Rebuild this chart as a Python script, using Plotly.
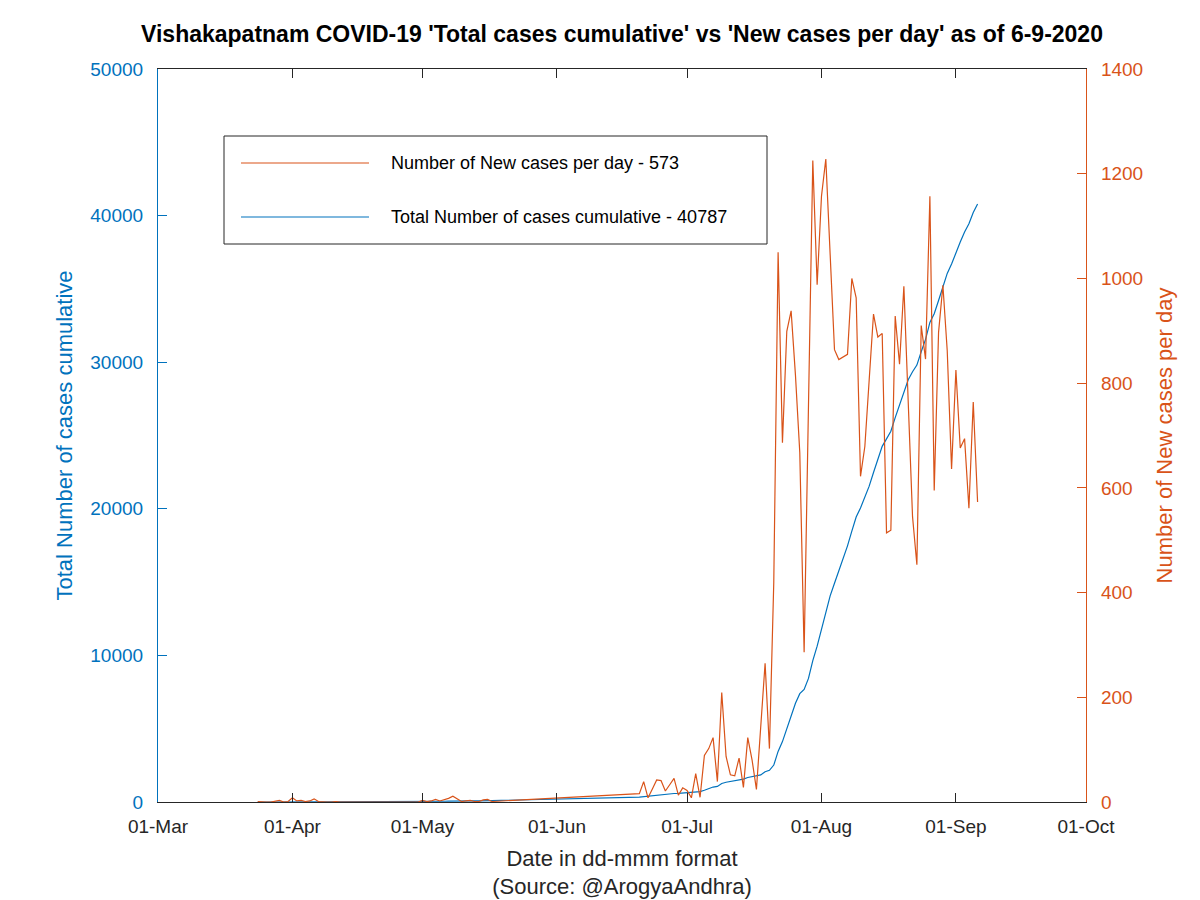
import pandas as pd
import plotly.graph_objects as go

# ---------------- data ----------------
seg1_start, seg1_end = "2020-03-24", "2020-05-17"
seg2_start, seg2_end = "2020-06-20", "2020-09-06"

new_seg1 = [1, 0, 0, 0, 1, 3, 0, 1, 8, 2, 3, 1, 2, 6, 1, 0,
            0, 0, 1, 0, 0, 0, 0, 1, 0, 0, 0, 0, 1, 0, 0, 0, 0, 0, 1, 0, 0, 0,
            3, 1, 2, 5, 2, 4, 7, 11, 6, 1, 2, 3, 1, 1, 4, 5, 1]
total_seg1 = [1, 1, 1, 1, 2, 5, 5, 6, 14, 16, 19, 20, 22, 28, 29, 29,
              29, 29, 30, 30, 30, 30, 30, 31, 31, 31, 31, 31, 32, 32, 32, 32, 32, 32, 33, 33, 33, 33,
              36, 37, 39, 44, 46, 50, 57, 68, 74, 75, 77, 80, 81, 82, 86, 91, 92]

new_seg2 = [16, 39, 8, 25, 42, 41, 21, 33, 45, 13, 27, 22, 8, 54, 9,
            89, 102, 123, 39, 209, 87, 52, 50, 84, 28, 123, 80, 24, 145, 265,
            102, 420, 1050, 686, 899, 938, 815, 667, 286, 755, 1225, 988, 1157, 1228, 1046,
            864, 845, 850, 855, 1000, 963, 622, 679, 806, 932, 888, 895, 514, 519, 928,
            836, 985, 765, 545, 453, 910, 846, 1157, 595, 897, 987, 862, 636, 825, 676,
            694, 561, 764, 573]
total_seg2 = [330, 365, 375, 400, 440, 480, 500, 535, 580, 590, 620, 640, 650, 700, 710,
              800, 900, 1020, 1060, 1260, 1350, 1400, 1450, 1530, 1560, 1670, 1740, 1760, 1850, 2060,
              2160, 2520, 3450, 4120, 5000, 5930, 6730, 7390, 7680, 8430, 9641, 10629, 11786, 13014, 14060,
              14924, 15769, 16619, 17474, 18474, 19437, 20059, 20738, 21544, 22476, 23364, 24259, 24773, 25292, 26220,
              27056, 28041, 28806, 29351, 29804, 30714, 31560, 32717, 33312, 34209, 35196, 36058, 36694, 37519, 38195,
              38889, 39450, 40214, 40787]

left_ticks = [0, 10000, 20000, 30000, 40000, 50000]
right_ticks = [0, 200, 400, 600, 800, 1000, 1200, 1400]
x_ticks = ["2020-03-01", "2020-04-01", "2020-05-01", "2020-06-01",
           "2020-07-01", "2020-08-01", "2020-09-01", "2020-10-01"]

title_text = "Vishakapatnam COVID-19 'Total cases cumulative' vs 'New cases per day' as of 6-9-2020"
new_label = "Number of New cases per day - 573"
total_label = "Total Number of cases cumulative - 40787"

# ---------------- build ----------------
dates = list(pd.date_range(seg1_start, seg1_end)) + list(pd.date_range(seg2_start, seg2_end))
new_cases = new_seg1 + new_seg2
total_cases = total_seg1 + total_seg2

BLUE = "#0072BD"
ORANGE = "#D95319"
DARK = "#262626"
FONT = "Liberation Sans, Arial, Helvetica, sans-serif"

fig = go.Figure()
fig.add_trace(go.Scatter(x=dates, y=total_cases, mode="lines", name=total_label,
                         line=dict(color=BLUE, width=1.2), yaxis="y", showlegend=False))
fig.add_trace(go.Scatter(x=dates, y=new_cases, mode="lines", name=new_label,
                         line=dict(color=ORANGE, width=1.2), yaxis="y2", showlegend=False))

W, H = 1200, 900
OFF = 7  # page body offset in the browser
L, R, T, B = 157 - OFF, 1085 - OFF, 68 - OFF, 801 - OFF
pw, ph = R - L, B - T

def px(xp):
    return (xp - OFF - L) / pw

def py(yp):
    return (B - (yp - OFF)) / ph

fig.update_layout(
    width=W, height=H,
    margin=dict(l=L, r=W - R, t=T, b=H - B, autoexpand=False),
    paper_bgcolor="white", plot_bgcolor="white",
    font=dict(family=FONT, size=19, color=DARK),
    title=dict(text="<b>" + title_text + "</b>", x=0.5, xref="paper", xanchor="center",
               y=1 - (33 - OFF) / H, yref="container", yanchor="middle",
               font=dict(family=FONT, size=23, color="black")),
    xaxis=dict(
        type="date", range=["2020-03-01", "2020-10-01"],
        tickvals=x_ticks, tickformat="%d-%b",
        showgrid=False, zeroline=False,
        showline=True, linecolor=DARK, linewidth=1.2, mirror="ticks",
        ticks="inside", ticklen=9, tickcolor=DARK, tickwidth=1,
        ticklabelstandoff=7,
        tickfont=dict(size=19, color=DARK),
        title=dict(text="Date in dd-mmm format<br>(Source: @ArogyaAndhra)",
                   font=dict(size=22, color=DARK), standoff=14),
    ),
    yaxis=dict(
        range=[0, 50000], tickvals=left_ticks, tickformat="d",
        showgrid=False, zeroline=False,
        showline=True, linecolor=BLUE, linewidth=1.2,
        ticks="inside", ticklen=9, tickcolor=BLUE,
        ticklabelstandoff=10,
        tickfont=dict(size=19, color=BLUE),
        title=dict(text="Total Number of cases cumulative", font=dict(size=22, color=BLUE), standoff=11),
    ),
    yaxis2=dict(
        range=[0, 1400], tickvals=right_ticks, tickformat="d",
        overlaying="y", side="right",
        showgrid=False, zeroline=False,
        showline=True, linecolor=ORANGE, linewidth=1.2,
        ticks="inside", ticklen=9, tickcolor=ORANGE,
        ticklabelstandoff=10,
        tickfont=dict(size=19, color=ORANGE),
        title=dict(text="Number of New cases per day", font=dict(size=22, color=ORANGE), standoff=14),
    ),
)

# legend box drawn as in the reference (long line samples)
shapes = [
    dict(type="rect", xref="paper", yref="paper", x0=px(223), x1=px(766), y0=py(243), y1=py(135),
         line=dict(color=DARK, width=1), fillcolor="white", layer="above"),
    dict(type="line", xref="paper", yref="paper", x0=px(240), x1=px(368), y0=py(162), y1=py(162),
         line=dict(color=ORANGE, width=1.2), layer="above"),
    dict(type="line", xref="paper", yref="paper", x0=px(240), x1=px(368), y0=py(216), y1=py(216),
         line=dict(color=BLUE, width=1.2), layer="above"),
]
annotations = [
    dict(text=new_label, xref="paper", yref="paper", x=px(388), y=py(162), xanchor="left",
         yanchor="middle", showarrow=False, font=dict(family=FONT, size=18, color="black")),
    dict(text=total_label, xref="paper", yref="paper", x=px(388), y=py(216), xanchor="left",
         yanchor="middle", showarrow=False, font=dict(family=FONT, size=18, color="black")),
]
fig.update_layout(shapes=shapes, annotations=annotations)

fig.write_html("out.html")
